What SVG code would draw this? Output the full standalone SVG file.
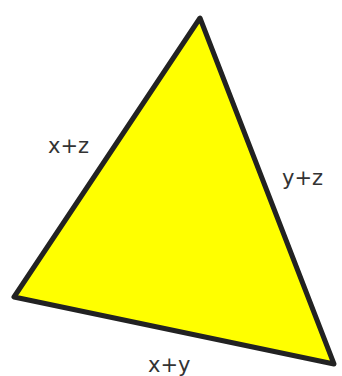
<svg xmlns="http://www.w3.org/2000/svg" width="342" height="376" viewBox="0 0 342 376">
<style>
.lbl{font-family:"DejaVu Sans",sans-serif;font-size:21px;fill:#333333}
</style>
<rect width="342" height="376" fill="#ffffff"/>
<g id="triangle">
<polygon points="200,18 14,297 334,364" fill="#ffff00" stroke="#222222" stroke-width="5" stroke-linejoin="round"/>
</g>
<g id="labels">
<text class="lbl" x="48" y="153">x+z</text>
<text class="lbl" x="282" y="185">y+z</text>
<text class="lbl" x="148" y="372">x+y</text>
</g>
</svg>
